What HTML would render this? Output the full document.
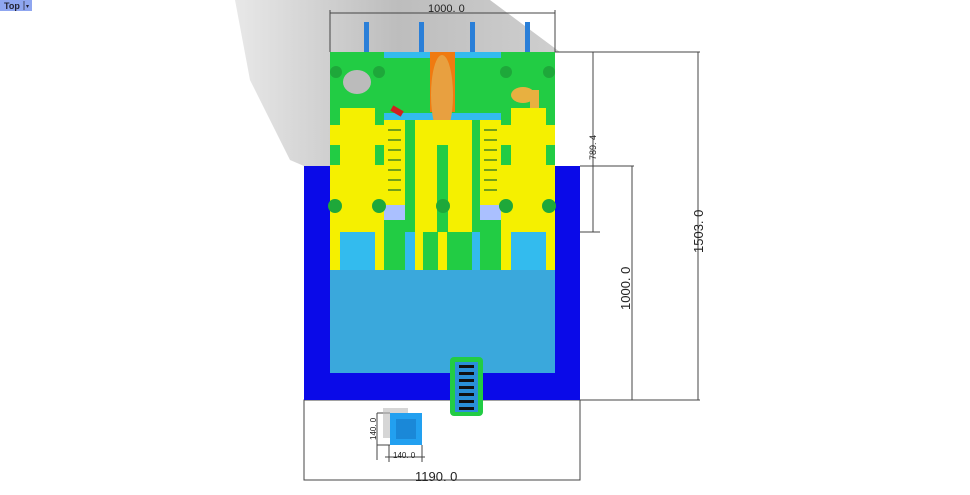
<!DOCTYPE html>
<html><head><style>
body{margin:0;background:#fff;width:970px;height:490px;overflow:hidden;font-family:"Liberation Sans",sans-serif}
</style></head><body>
<svg width="970" height="490" viewBox="0 0 970 490" xmlns="http://www.w3.org/2000/svg">
<defs>
<linearGradient id="sh" x1="0" y1="0" x2="1" y2="0"><stop offset="0" stop-color="#e8e8e8"/><stop offset="0.5" stop-color="#bdbdbd"/><stop offset="1" stop-color="#cfcfcf"/></linearGradient>
</defs>
<polygon points="235,0 490,0 560,52 330,52 330,166 304,166 290,160 250,80" fill="url(#sh)"/>
<rect x="0" y="0" width="32" height="11" fill="#8fa6f0"/>
<text x="4" y="9" font-size="9" font-weight="bold" fill="#223">Top</text>
<line x1="24" y1="1" x2="24" y2="10" stroke="#334" stroke-width="0.8"/>
<text x="26" y="8" font-size="6" fill="#223">▾</text>

<!-- dims -->
<g stroke="#444" stroke-width="1" fill="none">
<line x1="330" y1="13" x2="555" y2="13"/><line x1="330" y1="10" x2="330" y2="52"/><line x1="555" y1="10" x2="555" y2="52"/>
<line x1="555" y1="52" x2="700" y2="52"/><line x1="593" y1="52" x2="593" y2="232"/><line x1="555" y1="232" x2="600" y2="232"/>
<line x1="580" y1="166" x2="634" y2="166"/><line x1="632" y1="166" x2="632" y2="400"/>
<line x1="698" y1="52" x2="698" y2="400"/><line x1="580" y1="400" x2="700" y2="400"/>
<rect x="304" y="400" width="276" height="80"/>
<line x1="377" y1="413" x2="377" y2="452"/><line x1="377" y1="446" x2="377" y2="460"/><line x1="385" y1="457" x2="425" y2="457"/>
<line x1="377" y1="413" x2="390" y2="413"/><line x1="377" y1="445" x2="390" y2="445"/>
<line x1="389" y1="445" x2="389" y2="462"/><line x1="422" y1="445" x2="422" y2="462"/>
</g>
<text x="428" y="12" font-size="11" fill="#222">1000. 0</text>
<text x="596" y="160" font-size="9" fill="#222" transform="rotate(-90 596 160)">789. 4</text>
<text x="630" y="310" font-size="13" fill="#222" transform="rotate(-90 630 310)">1000. 0</text>
<text x="703" y="253" font-size="13" fill="#222" transform="rotate(-90 703 253)">1503. 0</text>
<text x="415" y="481" font-size="13" fill="#222">1190. 0</text>
<text x="376" y="440" font-size="8" fill="#222" transform="rotate(-90 376 440)">140. 0</text>
<text x="393" y="458" font-size="8" fill="#222">140. 0</text>

<!-- blowers -->
<g fill="#2a7fd8"><rect x="364" y="22" width="5" height="30"/><rect x="419" y="22" width="5" height="30"/><rect x="470" y="22" width="5" height="30"/><rect x="525" y="22" width="5" height="30"/></g>

<!-- pool frame -->
<rect x="304" y="166" width="276" height="234" fill="#0a0ae8"/>
<rect x="330" y="270" width="225" height="103" fill="#3aa8dc"/>

<!-- tower -->
<rect x="330" y="52" width="225" height="218" fill="#22cc44"/>
<rect x="384" y="52" width="117" height="6" fill="#33bbee"/>
<rect x="384" y="113" width="117" height="7" fill="#33bbee"/>
<rect x="430" y="52" width="25" height="60" fill="#f07a10"/>
<ellipse cx="442" cy="95" rx="11" ry="40" fill="#e8a040"/>
<ellipse cx="357" cy="82" rx="14" ry="12" fill="#bbb"/>
<ellipse cx="523" cy="95" rx="12" ry="8" fill="#e8b040"/>
<rect x="530" y="90" width="9" height="22" fill="#e8b040"/>
<rect x="391" y="108" width="12" height="6" fill="#d02020" transform="rotate(30 397 111)"/>
<!-- left slide -->
<rect x="330" y="125" width="54" height="107" fill="#f5f000"/>
<rect x="340" y="108" width="35" height="162" fill="#f5f000"/>
<rect x="330" y="145" width="10" height="20" fill="#22cc44"/><rect x="375" y="145" width="9" height="20" fill="#22cc44"/>
<rect x="340" y="232" width="35" height="38" fill="#33bbee"/>
<rect x="330" y="232" width="10" height="38" fill="#f5f000"/><rect x="375" y="232" width="9" height="38" fill="#f5f000"/>
<!-- right slide -->
<rect x="501" y="125" width="54" height="107" fill="#f5f000"/>
<rect x="511" y="108" width="35" height="162" fill="#f5f000"/>
<rect x="501" y="145" width="10" height="20" fill="#22cc44"/><rect x="546" y="145" width="9" height="20" fill="#22cc44"/>
<rect x="511" y="232" width="35" height="38" fill="#33bbee"/>
<rect x="501" y="232" width="10" height="38" fill="#f5f000"/><rect x="546" y="232" width="9" height="38" fill="#f5f000"/>
<!-- middle slide -->
<rect x="415" y="120" width="57" height="112" fill="#f5f000"/>
<rect x="437" y="145" width="11" height="87" fill="#22cc44"/>
<rect x="415" y="232" width="57" height="38" fill="#22cc44"/>
<rect x="415" y="232" width="8" height="38" fill="#f5f000"/><rect x="438" y="232" width="9" height="38" fill="#f5f000"/>
<rect x="405" y="232" width="10" height="38" fill="#33bbee"/><rect x="472" y="232" width="8" height="38" fill="#33bbee"/>
<!-- ladders -->
<rect x="384" y="120" width="21" height="85" fill="#f5f000"/><rect x="480" y="120" width="21" height="85" fill="#f5f000"/>
<g stroke="#1a6a2a" stroke-width="1.2">
<line x1="388" y1="130" x2="401" y2="130"/><line x1="388" y1="140" x2="401" y2="140"/><line x1="388" y1="150" x2="401" y2="150"/><line x1="388" y1="160" x2="401" y2="160"/><line x1="388" y1="170" x2="401" y2="170"/><line x1="388" y1="180" x2="401" y2="180"/><line x1="388" y1="190" x2="401" y2="190"/>
<line x1="484" y1="130" x2="497" y2="130"/><line x1="484" y1="140" x2="497" y2="140"/><line x1="484" y1="150" x2="497" y2="150"/><line x1="484" y1="160" x2="497" y2="160"/><line x1="484" y1="170" x2="497" y2="170"/><line x1="484" y1="180" x2="497" y2="180"/><line x1="484" y1="190" x2="497" y2="190"/>
</g>
<rect x="384" y="205" width="21" height="15" fill="#aac0ff"/><rect x="480" y="205" width="21" height="15" fill="#aac0ff"/>
<!-- palms -->
<g fill="#1ea83a">
<circle cx="336" cy="72" r="6"/><circle cx="379" cy="72" r="6"/><circle cx="506" cy="72" r="6"/><circle cx="549" cy="72" r="6"/>
<circle cx="335" cy="206" r="7"/><circle cx="379" cy="206" r="7"/><circle cx="443" cy="206" r="7"/><circle cx="506" cy="206" r="7"/><circle cx="549" cy="206" r="7"/>
</g>
<!-- ladder at front -->
<rect x="450" y="357" width="33" height="59" rx="4" fill="#22cc44"/>
<rect x="455" y="362" width="23" height="50" fill="#2a90d8"/>
<g fill="#111"><rect x="459" y="365" width="15" height="3"/><rect x="459" y="372" width="15" height="3"/><rect x="459" y="379" width="15" height="3"/><rect x="459" y="386" width="15" height="3"/><rect x="459" y="393" width="15" height="3"/><rect x="459" y="400" width="15" height="3"/><rect x="459" y="407" width="15" height="3"/></g>
<!-- cube -->
<rect x="383" y="408" width="25" height="30" fill="#bbb" opacity="0.6"/>
<rect x="390" y="413" width="32" height="32" fill="#22a0f0"/>
<rect x="396" y="419" width="20" height="20" fill="#1a88d8"/>
</svg>
</body></html>
